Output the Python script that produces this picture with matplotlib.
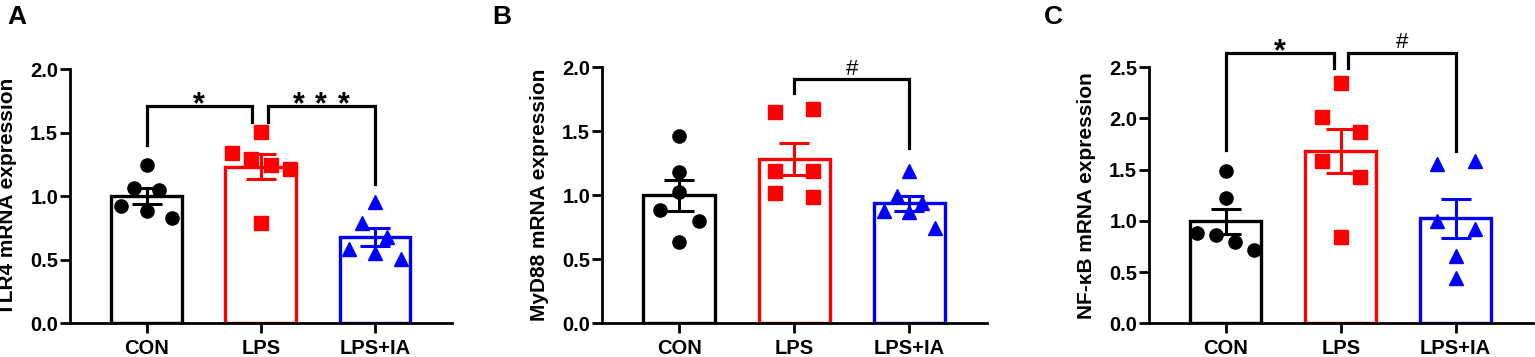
import matplotlib
matplotlib.use("Agg")
import matplotlib.pyplot as plt
import numpy as np

plt.rcParams['font.family'] = ['Liberation Sans', 'DejaVu Sans']

groups = ['CON', 'LPS', 'LPS+IA']
colors = ['#000000', '#ff0000', '#0000ff']
markers = ['o', 's', '^']

# values, one list per group
tlr4_con = [1.25, 1.063, 1.05, 0.927, 0.887, 0.827]
tlr4_lps = [1.509, 1.339, 1.291, 1.247, 1.213, 0.793]
tlr4_ia = [0.958, 0.793, 0.677, 0.583, 0.556, 0.504]

myd88_con = [1.464, 1.185, 1.023, 0.885, 0.802, 0.633]
myd88_lps = [1.654, 1.672, 1.193, 1.193, 1.016, 0.99]
myd88_ia = [1.193, 0.995, 0.938, 0.878, 0.872, 0.742]

nfkb_con = [1.491, 1.227, 0.885, 0.863, 0.798, 0.716]
nfkb_lps = [2.35, 2.012, 1.872, 1.589, 1.426, 0.84]
nfkb_ia = [1.553, 1.585, 1.0, 0.918, 0.658, 0.44]

# horizontal scatter of the dots (category units)
jit_a = [[0, -0.108, 0.111, -0.224, 0, 0.227],
         [0, -0.248, -0.087, 0.087, 0.257, 0],
         [0, -0.111, 0.108, -0.227, 0, 0.224]]
jit_b = [[0, 0, 0, -0.168, 0.174, 0],
         [-0.168, 0.165, -0.168, 0.165, -0.168, 0.165],
         [0, -0.11, 0.113, -0.217, 0, 0.223]]
jit_c = [[0, 0, -0.252, -0.084, 0.081, 0.249],
         [0, -0.165, 0.168, -0.165, 0.168, 0],
         [-0.159, 0.174, -0.165, 0.174, 0, 0]]

# brackets: (x left, x right, y, left leg end, right leg end, label)
br_a = [(0, 0.92, 1.711, 1.404, 1.588, '*'),
        (1.06, 2, 1.711, 1.588, 1.094, '***')]
br_b = [(1, 2, 1.906, 1.797, 1.367, '#')]
br_c = [(0, 0.94, 2.643, 1.693, 2.49, '*'),
        (1.065, 2, 2.643, 2.49, 1.686, '#')]

panels = [
    ('TLR4 mRNA expression', [tlr4_con, tlr4_lps, tlr4_ia], jit_a, br_a, 2.0,
     [0.0456, 0.0944, 0.2489, 0.7115]),
    ('MyD88 mRNA expression', [myd88_con, myd88_lps, myd88_ia], jit_b, br_b, 2.0,
     [0.3922, 0.0944, 0.2508, 0.7171]),
    ('NF-κB mRNA expression', [nfkb_con, nfkb_lps, nfkb_ia], jit_c, br_c, 2.5,
     [0.7485, 0.0944, 0.2502, 0.7171]),
]


def star(ax, x, y):
    ax.annotate('*', (x, y), xytext=(0, -5.3), textcoords='offset points',
                ha='center', va='baseline', fontsize=22, fontweight='bold',
                annotation_clip=False)


fig = plt.figure(figsize=(15.35, 3.57), dpi=100)

for ylab, data, jit, brackets, ytop, rect in panels:
    ax = fig.add_axes(rect)
    x = np.arange(3)
    means = [np.mean(d) for d in data]
    sems = [np.std(d, ddof=1) / np.sqrt(len(d)) for d in data]
    for i in range(3):
        ax.bar(x[i], means[i], width=0.62, facecolor='white', edgecolor=colors[i],
               linewidth=2.4, zorder=2)
        ax.errorbar(x[i], means[i], yerr=sems[i], color=colors[i], capsize=11,
                    capthick=2.2, elinewidth=2.2, zorder=3)
        ax.plot(x[i] + np.array(jit[i]), data[i], linestyle='none', marker=markers[i],
                color=colors[i], markersize=9.5 if markers[i] != '^' else 10,
                zorder=4, clip_on=False)

    for x0, x1, yb, y0, y1, lab in brackets:
        ax.plot([x0, x0, x1, x1], [y0, yb, yb, y1], color='black', lw=2.3,
                clip_on=False, solid_joinstyle='miter', zorder=5)
        xm = (x0 + x1) / 2
        if lab == '***':
            for k in (-1, 0, 1):
                star(ax, xm + k * 0.194, yb)
        elif lab == '*':
            star(ax, xm, yb)
        else:
            ax.annotate('#', (xm, yb), xytext=(0, 3.0), textcoords='offset points',
                        ha='center', va='baseline', fontsize=16,
                        annotation_clip=False)

    ax.set_xlim(-0.67, 2.675)
    ax.set_ylim(0, ytop)
    ticks = np.arange(0, ytop + 0.01, 0.5)
    ax.set_yticks(ticks)
    ax.set_yticklabels(['%.1f' % v for v in ticks])
    ax.set_xticks(x)
    ax.set_xticklabels(groups)
    for side in ('top', 'right'):
        ax.spines[side].set_visible(False)
    for side in ('left', 'bottom'):
        ax.spines[side].set_linewidth(2.0)
    ax.tick_params(axis='both', length=7, width=2.0, labelsize=14.5)
    ax.tick_params(axis='y', pad=1.5)
    ax.tick_params(axis='x', pad=4)
    for t in ax.get_xticklabels() + ax.get_yticklabels():
        t.set_fontweight('bold')
    ax.set_ylabel(ylab, fontsize=15, fontweight='bold')
    ax.yaxis.set_label_coords(-0.138, 0.5)

fig.text(0.005, 0.985, 'A', fontsize=19, fontweight='bold', ha='left', va='top')
fig.text(0.321, 0.985, 'B', fontsize=19, fontweight='bold', ha='left', va='top')
fig.text(0.680, 0.985, 'C', fontsize=19, fontweight='bold', ha='left', va='top')

fig.savefig('out.png', dpi=100)
